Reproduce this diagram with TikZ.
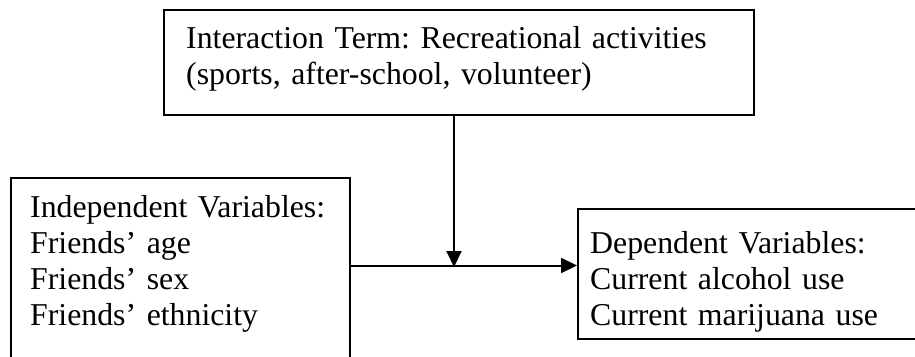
\documentclass[tikz,border=0pt]{standalone}
\usepackage{fontspec}
\setmainfont{Liberation Serif}
\usetikzlibrary{arrows.meta}
\begin{document}
\frenchspacing
\begin{tikzpicture}[x=1pt,y=-1pt,
  box/.style={draw=black,line width=2pt,rectangle,inner sep=0pt,anchor=north west},
  txt/.style={anchor=base west,inner sep=0pt,align=left,text width=#1,
    font=\fontsize{31.8}{36.2}\selectfont\frenchspacing},
  arr/.style={line width=2pt,-{Triangle[length=16pt,width=15pt]}}]
\useasboundingbox (0,0) rectangle (915,356);
\fill[white] (0,0) rectangle (915,356);
\clip (0,0) rectangle (915,356);
\node[box,minimum width=590pt,minimum height=105pt] (top) at (163,9) {};
\node[box,minimum width=339pt,minimum height=220pt] (left) at (10,177) {};
\node[box,minimum width=380pt,minimum height=130pt] (right) at (577,208) {};
\node[txt=560pt] (topT) at (186,48) {Interaction Term: Recreational activities\\(sports, after-school, volunteer)};
\node[txt=310pt] (leftT) at (30,217) {Independent Variables:\\Friends’ age\\Friends’ sex\\Friends’ ethnicity};
\node[txt=320pt] (rightT) at (590,253) {Dependent Variables:\\Current alcohol use\\Current marijuana use};
\coordinate (m) at (454,265.5);
\draw[arr] (top.south -| m) -- ([yshift=-1.5pt]m);
\draw[arr] (m -| left.east) -- (m -| right.west);
\end{tikzpicture}
\end{document}
